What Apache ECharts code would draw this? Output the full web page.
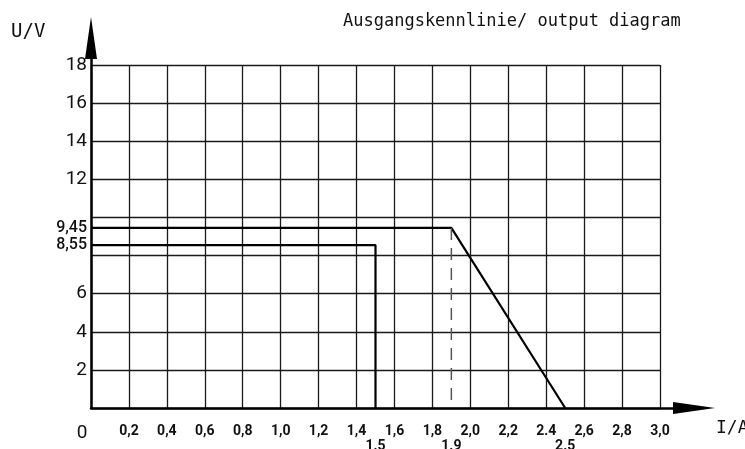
<!DOCTYPE html>
<html>
<head>
<meta charset="utf-8">
<script src="https://cdn.jsdelivr.net/npm/echarts@6/dist/echarts.min.js"></script>
<style>
	html, body { margin: 0; padding: 0; background: #fff; }
	#main { width: 745px; height: 449px; }
</style>
</head>
<body>
<div id="main"></div>
<script>
// tick values and labels, as printed on the drawing
var xTickValues = [0, 0.2, 0.4, 0.6, 0.8, 1.0, 1.2, 1.4, 1.6, 1.8, 2.0, 2.2, 2.4, 2.6, 2.8, 3.0];
var xTickLabels = ['0', '0,2', '0,4', '0,6', '0,8', '1,0', '1,2', '1,4', '1,6', '1,8', '2,0', '2,2', '2.4', '2,6', '2,8', '3,0'];
var xMarkValues = [1.5, 1.9, 2.5];
var xMarkLabels = ['1.5', '1.9', '2.5'];
var yTickValues = [2, 4, 6, 8.55, 9.45, 12, 14, 16, 18];
var yTickLabels = ['2', '4', '6', '8,55', '9,45', '12', '14', '16', '18'];

// characteristic curves (I in A, U in V)
var upperI = [0, 1.9, 2.5];
var upperU = [9.45, 9.45, 0];
var lowerI = [0, 1.5, 1.5];
var lowerU = [8.55, 8.55, 0];
var kneeI = [1.9, 1.9];
var kneeU = [9.45, 0];

function pairs(xs, ys) {
	var out = [];
	for (var i = 0; i < xs.length; i++) out.push([xs[i], ys[i]]);
	return out;
}

var narrow = "Roboto, 'Liberation Sans', sans-serif";
var mono = "'DejaVu Sans Mono', monospace";

var myChart = echarts.init(document.getElementById('main'));
var option = {
	animation: false,
	backgroundColor: '#fff',
	title: {
		text: 'Ausgangskennlinie/ output diagram',
		left: 338,
		top: 8,
		textStyle: { fontFamily: mono, fontSize: 17, fontWeight: 'normal', color: '#111' }
	},
	graphic: [
		{ type: 'text', left: 11, top: 23, style: { text: 'U/V', font: '19px ' + mono, fill: '#111' } },
		{ type: 'text', left: 716, top: 419, style: { text: 'I/A', font: '18px ' + mono, fill: '#111' } }
	],
	grid: [
		{ left: 91, right: 85, top: 65, bottom: 41, outerBoundsMode: 'none', containLabel: false },
		{ left: 91, right: 51, top: 38, bottom: 41, outerBoundsMode: 'none', containLabel: false }
	],
	xAxis: [
		{
			type: 'value', gridIndex: 0, min: 0, max: 3, interval: 0.2,
			axisLine: { show: false },
			axisTick: { show: false },
			splitLine: { show: true, lineStyle: { color: '#1a1a1a', width: 1.3 } },
			axisLabel: {
				customValues: xTickValues,
				margin: 16,
				fontFamily: narrow, fontSize: 14, fontWeight: 'bold', color: '#111',
				formatter: function(v, i) {
					var idx = xTickValues.indexOf(v);
					if (idx < 0) idx = i;
					if (idx === 0) return '{o|' + xTickLabels[0] + '}';
					return xTickLabels[idx];
				},
				rich: {
					o: { fontFamily: narrow, fontSize: 19, fontWeight: 'normal', padding: [0, 18, 0, 0], color: '#111' }
				}
			}
		},
		{
			type: 'value', gridIndex: 0, min: 0, max: 3, position: 'bottom',
			axisLine: { show: false },
			axisTick: { show: false },
			splitLine: { show: false },
			axisLabel: {
				customValues: xMarkValues,
				margin: 31,
				fontFamily: narrow, fontSize: 14, fontWeight: 'bold', color: '#111',
				formatter: function(v) {
					var idx = xMarkValues.indexOf(v);
					return idx < 0 ? '' : xMarkLabels[idx];
				}
			}
		},
		{
			type: 'value', gridIndex: 1, min: 0, max: 1,
			axisLine: { show: true, symbol: ['none', 'triangle'], symbolSize: [12, 42], lineStyle: { color: '#000', width: 2.5 } },
			axisTick: { show: false }, axisLabel: { show: false }, splitLine: { show: false }
		}
	],
	yAxis: [
		{
			type: 'value', gridIndex: 0, min: 0, max: 18, interval: 2,
			axisLine: { show: false },
			axisTick: { show: false },
			splitLine: { show: true, lineStyle: { color: '#1a1a1a', width: 1.3 } },
			axisLabel: {
				customValues: yTickValues,
				margin: 4,
				fontFamily: narrow, fontSize: 19, color: '#111',
				formatter: function(v) {
					var idx = yTickValues.indexOf(v);
					if (idx < 0) return '';
					var s = yTickLabels[idx];
					return s.indexOf(',') >= 0 ? '{s|' + s + '}' : s;
				},
				rich: {
					s: { fontFamily: narrow, fontSize: 16, fontWeight: 500, color: '#111' }
				}
			}
		},
		{
			type: 'value', gridIndex: 1, min: 0, max: 1,
			axisLine: { show: true, symbol: ['none', 'triangle'], symbolSize: [12, 42], lineStyle: { color: '#000', width: 2.5 } },
			axisTick: { show: false }, axisLabel: { show: false }, splitLine: { show: false }
		}
	],
	series: [
		{
			name: 'upper', type: 'line', xAxisIndex: 0, yAxisIndex: 0,
			data: pairs(upperI, upperU), symbol: 'none',
			lineStyle: { color: '#000', width: 2.2 }
		},
		{
			name: 'lower', type: 'line', xAxisIndex: 0, yAxisIndex: 0,
			data: pairs(lowerI, lowerU), symbol: 'none',
			lineStyle: { color: '#000', width: 2.2 }
		},
		{
			name: 'knee', type: 'line', xAxisIndex: 0, yAxisIndex: 0,
			data: pairs(kneeI, kneeU), symbol: 'none',
			lineStyle: { color: '#555', width: 1.5, type: [12, 8] }
		}
	]
};
myChart.setOption(option);
</script>
</body>
</html>
